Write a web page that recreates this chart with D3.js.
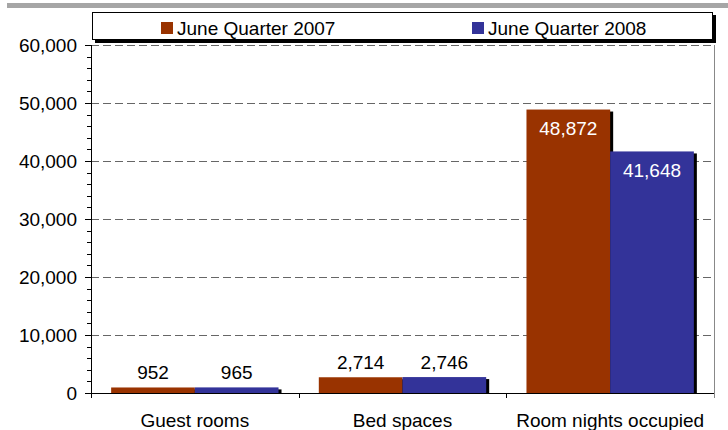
<!DOCTYPE html>
<html>
<head>
<meta charset="utf-8">
<script src="https://cdn.jsdelivr.net/npm/d3@7"></script>
<style>
  body { margin: 0; background: #fff; }
  text { font-family: "Liberation Sans", Arial, sans-serif; }
</style>
</head>
<body>
<div id="chart"></div>
<script>
// chart values
var categories = ["Guest rooms", "Bed spaces", "Room nights occupied"];
var seriesNames = ["June Quarter 2007", "June Quarter 2008"];
var values2007 = [952, 2714, 48872];
var values2008 = [965, 2746, 41648];
var yTicks = [0, 10000, 20000, 30000, 40000, 50000, 60000];

var width = 728, height = 430;
var colors = ["#993300", "#333399"];
var plot = {left: 91, right: 714, top: 45, bottom: 393};

var svg = d3.select("#chart").append("svg")
    .attr("width", width)
    .attr("height", height);

// grey strip along the top
svg.append("rect").attr("x", 7).attr("y", 3).attr("width", width - 7).attr("height", 5).attr("fill", "#a6a6a6");

var y = d3.scaleLinear().domain([0, 60000]).range([plot.bottom, plot.top]);
var x = d3.scaleBand().domain(categories).range([plot.left, plot.right]);
var bw = x.bandwidth();
var xs = d3.scaleBand().domain(seriesNames).range([bw * 0.097, bw * 0.903]);

// gridlines
svg.append("g").selectAll("line")
  .data(yTicks.filter(function(d) { return d > 0; }))
  .join("line")
    .attr("x1", plot.left).attr("x2", plot.right)
    .attr("y1", function(d) { return y(d) + 0.5; })
    .attr("y2", function(d) { return y(d) + 0.5; })
    .attr("stroke", "#666")
    .attr("stroke-dasharray", "8,4");

// right border
svg.append("line")
  .attr("x1", plot.right + 0.5).attr("x2", plot.right + 0.5)
  .attr("y1", plot.top).attr("y2", plot.bottom + 5)
  .attr("stroke", "#888");

// bars
var rows = categories.map(function(c, i) {
  return [{cat: c, s: seriesNames[0], v: values2007[i], ci: 0},
          {cat: c, s: seriesNames[1], v: values2008[i], ci: 1}];
});
var flat = [].concat.apply([], rows);

var barG = svg.append("g");
// shadows first
barG.selectAll("rect.shadow")
  .data(flat)
  .join("rect")
    .attr("class", "shadow")
    .attr("x", function(d) { return x(d.cat) + xs(d.s) + 3; })
    .attr("y", function(d) { return y(d.v) + 2; })
    .attr("width", xs.bandwidth())
    .attr("height", function(d) { return Math.max(0, y(0) - y(d.v) - 2); })
    .attr("fill", "#000");

barG.selectAll("rect.bar")
  .data(flat)
  .join("rect")
    .attr("class", "bar")
    .attr("x", function(d) { return x(d.cat) + xs(d.s); })
    .attr("y", function(d) { return y(d.v); })
    .attr("width", xs.bandwidth())
    .attr("height", function(d) { return y(0) - y(d.v); })
    .attr("fill", function(d) { return colors[d.ci]; });

// value labels
barG.selectAll("text")
  .data(flat)
  .join("text")
    .attr("x", function(d) { return x(d.cat) + xs(d.s) + xs.bandwidth() / 2; })
    .attr("y", function(d) {
      return (y(0) - y(d.v) > 40) ? y(d.v) + 19 : y(d.v) - 15;
    })
    .attr("text-anchor", "middle")
    .attr("dominant-baseline", "central")
    .attr("font-size", 19)
    .attr("fill", function(d) { return (y(0) - y(d.v) > 40) ? "#fff" : "#000"; })
    .text(function(d) { return d3.format(",")(d.v); });

// y axis
var yAxis = d3.axisLeft(y).tickValues(yTicks).tickSize(6).tickSizeOuter(0)
  .tickFormat(d3.format(","));
var yAxisG = svg.append("g").attr("transform", "translate(" + plot.left + ",0)").call(yAxis);
yAxisG.select(".domain").remove();
yAxisG.selectAll("text").attr("font-size", 19).attr("fill", "#000").attr("x", -14)
  .style("font-family", "'Liberation Sans', Arial, sans-serif");
yAxisG.selectAll("line").attr("stroke", "#000");

// minor ticks every 2,000
svg.append("g").selectAll("line")
  .data(d3.range(0, 60001, 2000).filter(function(d) { return d % 10000 !== 0; }))
  .join("line")
    .attr("x1", plot.left - 4).attr("x2", plot.left)
    .attr("y1", function(d) { return Math.round(y(d)) + 0.5; })
    .attr("y2", function(d) { return Math.round(y(d)) + 0.5; })
    .attr("stroke", "#000");

svg.append("line")
  .attr("x1", plot.left + 0.5).attr("x2", plot.left + 0.5)
  .attr("y1", plot.top).attr("y2", plot.bottom + 5)
  .attr("stroke", "#000");

// x axis
svg.append("line")
  .attr("x1", plot.left).attr("x2", plot.right)
  .attr("y1", plot.bottom + 0.5).attr("y2", plot.bottom + 0.5)
  .attr("stroke", "#000");

svg.append("g").selectAll("line")
  .data(categories.slice(1))
  .join("line")
    .attr("x1", function(d) { return Math.round(x(d)) + 0.5; })
    .attr("x2", function(d) { return Math.round(x(d)) + 0.5; })
    .attr("y1", plot.bottom).attr("y2", plot.bottom + 5)
    .attr("stroke", "#000");

svg.append("g").selectAll("text")
  .data(categories)
  .join("text")
    .attr("x", function(d) { return x(d) + bw / 2; })
    .attr("y", 420)
    .attr("text-anchor", "middle")
    .attr("dominant-baseline", "central")
    .attr("font-size", 19)
    .text(function(d) { return d; });

// legend
var lg = svg.append("g");
lg.append("rect").attr("x", 95).attr("y", 15).attr("width", 621).attr("height", 28).attr("fill", "#000");
lg.append("rect").attr("x", 92.5).attr("y", 12.5).attr("width", 620).attr("height", 27)
  .attr("fill", "#fff").attr("stroke", "#000");

var legendX = [161, 472];
lg.selectAll("g.item")
  .data(seriesNames)
  .join("g")
    .attr("class", "item")
    .attr("transform", function(d, i) { return "translate(" + legendX[i] + ",22)"; })
    .each(function(d, i) {
      var g = d3.select(this);
      g.append("rect").attr("width", 12).attr("height", 12).attr("fill", colors[i]);
      g.append("text").attr("x", 16).attr("y", 6).attr("dominant-baseline", "central")
        .attr("font-size", 19).text(d);
    });
</script>
</body>
</html>
